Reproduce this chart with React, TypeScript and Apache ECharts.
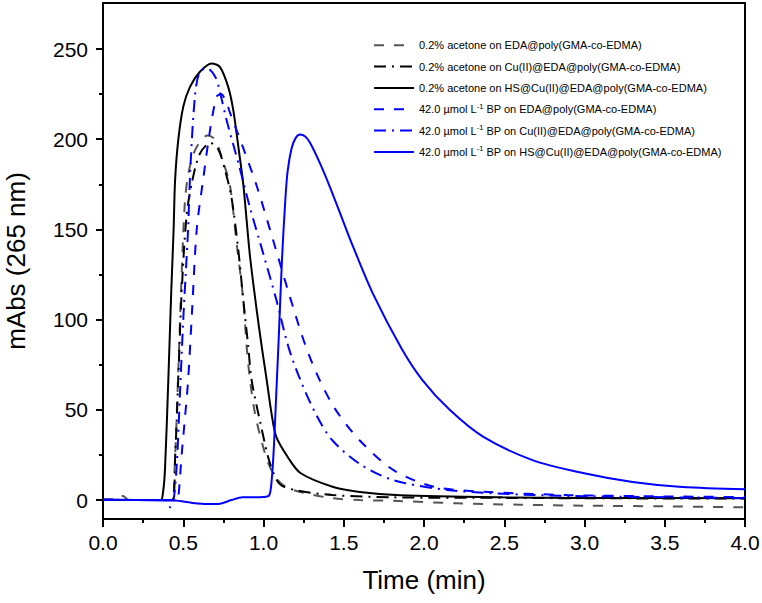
import React, { useEffect, useRef } from "react";
import * as echarts from "echarts";

// ---- Data ----
const seriesNames = [
  "0.2% acetone on EDA@poly(GMA-co-EDMA)",
  "0.2% acetone on Cu(II)@EDA@poly(GMA-co-EDMA)",
  "0.2% acetone on HS@Cu(II)@EDA@poly(GMA-co-EDMA)",
  "42.0 µmol L⁻¹ BP on EDA@poly(GMA-co-EDMA)",
  "42.0 µmol L⁻¹ BP on Cu(II)@EDA@poly(GMA-co-EDMA)",
  "42.0 µmol L⁻¹ BP on HS@Cu(II)@EDA@poly(GMA-co-EDMA)",
];

const acetoneEdaT = [0, 0.08, 0.11, 0.13, 0.16, 0.3, 0.43, 0.445, 0.467, 0.49, 0.51, 0.53, 0.56, 0.6, 0.65, 0.7, 0.75, 0.79, 0.833, 0.874, 0.895, 0.916, 0.947, 0.99, 1.03, 1.08, 1.145, 1.25, 1.43, 1.6, 1.81, 2.2, 2.6, 3.0, 3.5, 4.0];
const acetoneEdaY = [0.5, 0.5, 2.5, 2, 0, 0, 0, 15, 66, 125, 165, 180, 191, 198, 202, 199.6, 187, 175, 142, 111, 85, 66.5, 48, 32, 20.5, 12, 7, 4, 1, 0, -0.4, -1.8, -2.6, -3.1, -3.5, -4];

const acetoneCuT = [0, 0.3, 0.43, 0.45, 0.47, 0.49, 0.52, 0.553, 0.604, 0.67, 0.72, 0.76, 0.8, 0.843, 0.874, 0.905, 0.926, 0.98, 1.04, 1.1, 1.2, 1.43, 1.81, 2.5, 3.0, 4.0];
const acetoneCuY = [0, 0, 0, 25, 70, 115, 157, 175.6, 192, 198, 194, 183, 168, 138.6, 111, 85, 66.5, 43, 20.5, 9, 5.5, 2.8, 1.5, 1.2, 1.0, 0.8];

const acetoneHsT = [0, 0.3, 0.36, 0.375, 0.386, 0.407, 0.425, 0.44, 0.449, 0.469, 0.5, 0.542, 0.604, 0.677, 0.729, 0.78, 0.812, 0.843, 0.874, 0.895, 0.916, 0.958, 0.989, 1.02, 1.05, 1.08, 1.15, 1.23, 1.43, 1.6, 1.85, 2.49, 3.0, 4.0];
const acetoneHsY = [0, 0, 0, 5, 16.6, 66.5, 115, 150, 177, 199.6, 218, 229, 237.4, 242, 240, 229, 216, 196, 175, 155, 135, 105, 85, 66.5, 48, 35, 24, 15, 7.4, 4.5, 2.7, 1.5, 1.2, 1.0];

const bpEdaT = [0, 0.3, 0.46, 0.47, 0.49, 0.51, 0.53, 0.555, 0.584, 0.623, 0.667, 0.708, 0.735, 0.77, 0.79, 0.87, 0.96, 1.06, 1.165, 1.26, 1.35, 1.45, 1.6, 1.81, 2.06, 2.37, 2.89, 3.5, 4.0];
const bpEdaY = [0, 0, 0, 2, 25, 45, 66, 105, 150, 177, 205, 223.6, 225, 220, 215, 196, 173.5, 144, 112.5, 86, 66.5, 50, 33, 16.6, 7.4, 4.6, 2.8, 2.0, 1.7];

const bpCuT = [0, 0.3, 0.39, 0.42, 0.44, 0.46, 0.48, 0.5, 0.515, 0.53, 0.545, 0.573, 0.6, 0.646, 0.7, 0.73, 0.77, 0.85, 0.916, 0.997, 1.08, 1.155, 1.23, 1.33, 1.43, 1.6, 1.81, 2.16, 2.68, 3.3, 4.0];
const bpCuY = [0, 0, 0, -4, 0, 20, 60, 100, 125, 150, 185, 224, 236.7, 239.5, 234.5, 225.6, 210.6, 184.6, 162, 137, 111, 85, 66.5, 47, 33, 20, 11, 5.5, 2.8, 1.8, 1.1];

const bpHsT = [0, 0.2, 0.45, 0.55, 0.65, 0.73, 0.8, 0.87, 1.0, 1.035, 1.05, 1.065, 1.08, 1.095, 1.115, 1.135, 1.15, 1.175, 1.2, 1.227, 1.26, 1.29, 1.35, 1.414, 1.49, 1.56, 1.68, 1.86, 1.99, 2.16, 2.37, 2.68, 2.99, 3.3, 3.61, 4.0];
const bpHsY = [0.3, 0, -0.3, -1.5, -2.2, -2, 0, 1.5, 1.7, 2.5, 10, 30, 60, 90, 133, 165, 182, 195, 200.6, 202.6, 201.5, 198, 187, 173.5, 156, 140, 114.7, 84, 66.5, 50, 35, 22, 15, 10, 7.2, 6];

const xTickInterval = 0.5;
const yMajorTicks = [0, 50, 100, 150, 200, 250];
const yMinorTicks = [25, 75, 125, 175, 225];

const zip = (xs: number[], ys: number[]) => xs.map((x, i) => [x, ys[i]]);

const FONT = 'Arial, "Liberation Sans", sans-serif';

export default function App() {
  const ref = useRef<HTMLDivElement>(null);

  useEffect(() => {
    if (!ref.current) return;
    const chart = echarts.init(ref.current, undefined, { renderer: "svg" });

    const styles = [
      { color: "#555555", type: [10, 10] },
      { color: "#000000", type: [12, 6, 2, 6] },
      { color: "#000000", type: "solid" },
      { color: "#0000ff", type: [10, 10] },
      { color: "#0000ff", type: [12, 6, 2, 6] },
      { color: "#0000ff", type: "solid" },
    ];
    const datas = [
      zip(acetoneEdaT, acetoneEdaY),
      zip(acetoneCuT, acetoneCuY),
      zip(acetoneHsT, acetoneHsY),
      zip(bpEdaT, bpEdaY),
      zip(bpCuT, bpCuY),
      zip(bpHsT, bpHsY),
    ];

    const series = seriesNames.map((name, i) => ({
      name,
      type: "line",
      data: datas[i],
      showSymbol: false,
      symbol: "none",
      smooth: 0.3,
      xAxisIndex: 0,
      yAxisIndex: 0,
      lineStyle: { color: styles[i].color, width: 2, type: styles[i].type },
      itemStyle: { color: styles[i].color },
      z: 2 + i,
    }));

    const yCommon = {
      type: "value",
      min: -10.5,
      max: 275.5,
      position: "left",
      splitLine: { show: false },
    };

    chart.setOption({
      animation: false,
      backgroundColor: "#ffffff",
      grid: {
        left: 103,
        right: 17,
        top: 3,
        bottom: 84,
        show: true,
        borderColor: "#000",
        borderWidth: 2,
        containLabel: false,
        outerBoundsMode: "none",
      },
      legend: {
        orient: "vertical",
        left: 373,
        top: 36.7,
        padding: 0,
        itemWidth: 40,
        itemHeight: 21.2,
        itemGap: 4.4,
        data: seriesNames,
        itemStyle: { opacity: 0, borderWidth: 0 },
        textStyle: {
          fontSize: 11,
          fontFamily: FONT,
          color: "#000",
          rich: {
            n: { fontSize: 11, fontFamily: FONT, color: "#000", lineHeight: 14 },
            sup: { fontSize: 7.5, fontFamily: FONT, color: "#000", lineHeight: 14, verticalAlign: "top" },
          },
        },
        formatter: (name: string) => {
          if (name.indexOf("⁻¹") >= 0) {
            const [a, b] = name.split("⁻¹");
            return "{n|" + a + "}{sup|-1}{n|" + b + "}";
          }
          return "{n|" + name + "}";
        },
      },
      xAxis: {
        type: "value",
        min: 0,
        max: 4,
        interval: xTickInterval,
        name: "Time (min)",
        nameLocation: "middle",
        nameGap: 48,
        nameMoveOverlap: false,
        nameTextStyle: { fontSize: 26, fontFamily: FONT, color: "#000" },
        axisLine: { show: true, onZero: false, lineStyle: { color: "#000", width: 2 } },
        axisTick: { show: true, length: 8, lineStyle: { color: "#000", width: 2 } },
        minorTick: { show: true, splitNumber: 2, length: 4, lineStyle: { color: "#000", width: 2 } },
        axisLabel: {
          fontSize: 21,
          fontFamily: FONT,
          color: "#000",
          margin: 13,
          formatter: (v: number) => v.toFixed(1),
        },
        splitLine: { show: false },
        minorSplitLine: { show: false },
      },
      yAxis: [
        {
          ...yCommon,
          name: "mAbs (265 nm)",
          nameLocation: "middle",
          nameGap: 74,
          nameMoveOverlap: false,
          nameTextStyle: { fontSize: 26, fontFamily: FONT, color: "#000" },
          axisLine: { show: true, onZero: false, lineStyle: { color: "#000", width: 2 } },
          axisTick: { show: true, length: 7, customValues: yMajorTicks, lineStyle: { color: "#000", width: 2 } },
          axisLabel: { fontSize: 21, fontFamily: FONT, color: "#000", margin: 15, customValues: yMajorTicks },
        },
        {
          ...yCommon,
          axisLine: { show: false },
          axisTick: { show: true, length: 4, customValues: yMinorTicks, lineStyle: { color: "#000", width: 2 } },
          axisLabel: { show: false },
        },
      ],
      series,
    });

    return () => chart.dispose();
  }, []);

  return (
    <div
      ref={ref}
      style={{ position: "fixed", left: 0, top: 0, width: 762, height: 603, background: "#fff" }}
    />
  );
}
